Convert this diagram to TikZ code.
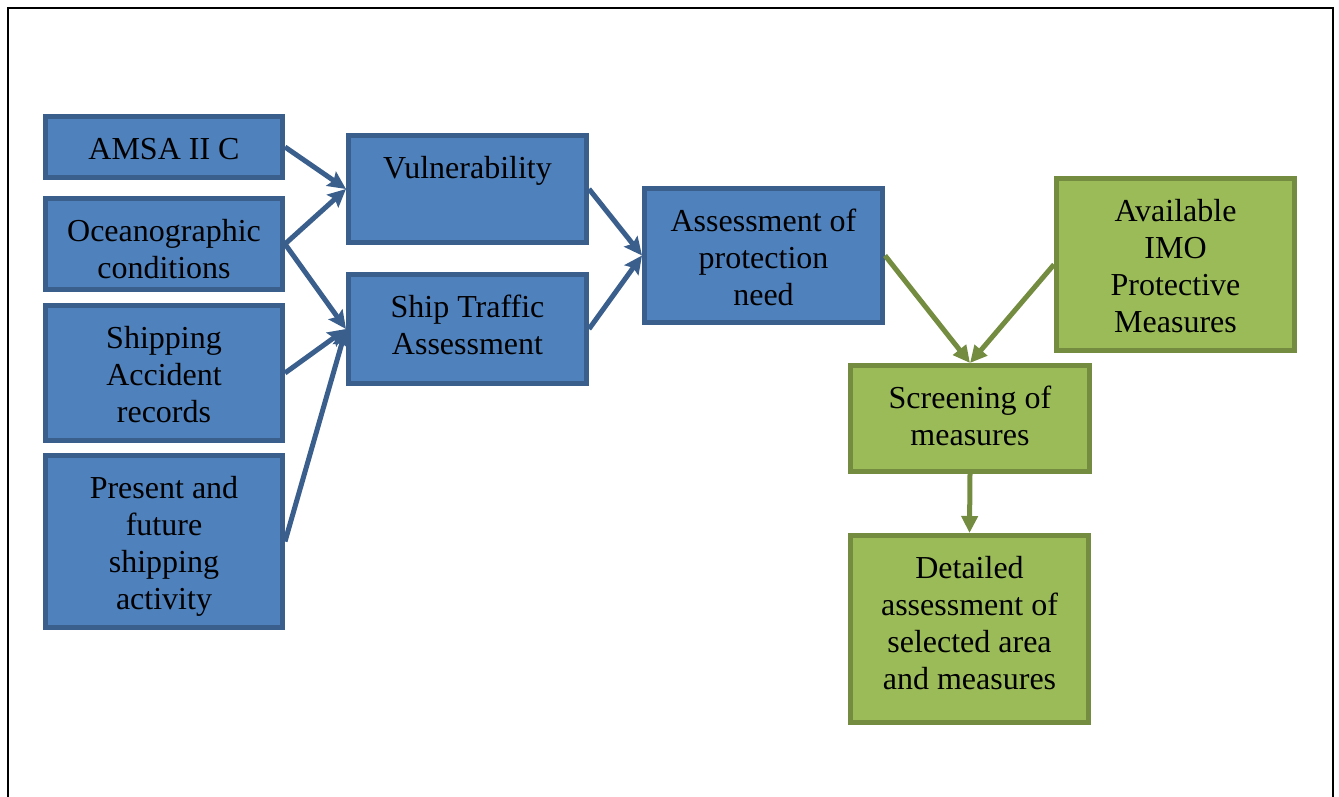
\documentclass[tikz,border=0pt]{standalone}
\usepackage{fontspec}
\setmainfont{Liberation Serif}
\usetikzlibrary{arrows.meta}
\definecolor{bfill}{HTML}{4F81BD}
\definecolor{bline}{HTML}{3A5F8C}
\definecolor{gfill}{HTML}{9BBB59}
\definecolor{gline}{HTML}{738C40}
\tikzset{
  box/.style={draw, line width=5pt, inner sep=0pt},
  bluebox/.style={box, fill=bfill, draw=bline},
  greenbox/.style={box, fill=gfill, draw=gline},
  txt/.style={anchor=north, inner sep=0pt, outer sep=0pt, align=center,
    font=\fontsize{32}{37}\selectfont},
  barrow/.style={draw=bline, line width=5pt, -{Stealth[length=18pt,width=17pt,inset=3pt]}},
  garrow/.style={draw=gline, line width=5pt, -{Triangle[length=17pt,width=16pt]}}
}
\newcommand{\boxtext}[2]{\node[txt] (#1-t) at ([yshift=-20pt]#1.north) {\strut #2};}
\begin{document}
\begin{tikzpicture}[x=1pt,y=-1pt]
\useasboundingbox (0,0) rectangle (1339,796);
\draw[line width=2pt] (8,810) -- (8,8) -- (1333,8) -- (1333,810);
\node[bluebox, minimum width=237pt, minimum height=61pt] (amsa) at (164,147) {};
\node[bluebox, minimum width=237pt, minimum height=91pt] (ocean) at (164,244) {};
\node[bluebox, minimum width=237pt, minimum height=135pt] (acc) at (164,373) {};
\node[bluebox, minimum width=237pt, minimum height=172pt] (pres) at (164,541.5) {};
\node[bluebox, minimum width=238pt, minimum height=107pt] (vuln) at (467.5,189) {};
\node[bluebox, minimum width=238pt, minimum height=109pt] (ship) at (467.5,329) {};
\node[bluebox, minimum width=238pt, minimum height=134pt] (assess) at (763.5,255.5) {};
\node[greenbox, minimum width=238pt, minimum height=172pt] (avail) at (1175.5,264.5) {};
\node[greenbox, minimum width=239pt, minimum height=106pt] (screen) at (970,418.5) {};
\node[greenbox, minimum width=238pt, minimum height=187pt] (detail) at (969.5,629) {};
\boxtext{amsa}{AMSA II C}
\boxtext{ocean}{Oceanographic\\conditions}
\boxtext{acc}{Shipping\\Accident\\records}
\boxtext{pres}{Present and\\future\\shipping\\activity}
\boxtext{vuln}{Vulnerability}
\boxtext{ship}{Ship Traffic\\Assessment}
\boxtext{assess}{Assessment of\\protection\\need}
\boxtext{avail}{Available\\IMO\\Protective\\Measures}
\boxtext{screen}{Screening of\\measures}
\boxtext{detail}{Detailed\\assessment of\\selected area\\and measures}
\draw[barrow] (amsa.east) -- (vuln.west);
\draw[barrow] (ocean.east) -- (vuln.west);
\draw[barrow] (ocean.east) -- (ship.west);
\draw[barrow] (acc.east) -- (ship.west);
\draw[barrow] (pres.east) -- (ship.west);
\draw[barrow] (vuln.east) -- (assess.west);
\draw[barrow] (ship.east) -- (assess.west);
\draw[garrow] (assess.east) -- (screen.north);
\draw[garrow] (avail.west) -- (screen.north);
\draw[garrow] (screen.south) -- (detail.north);
\end{tikzpicture}
\end{document}
